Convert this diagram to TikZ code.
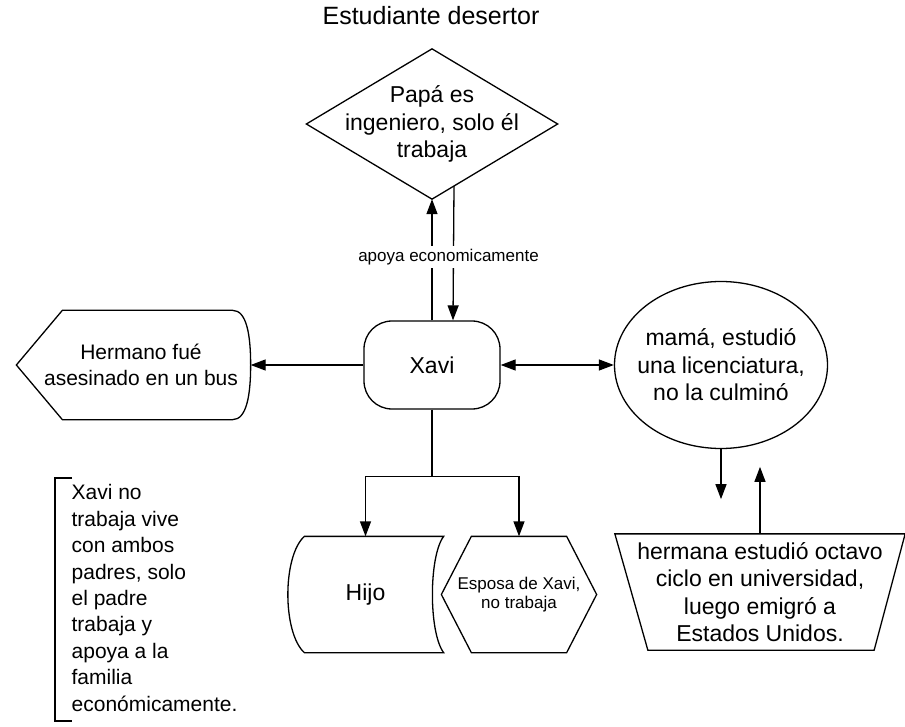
\documentclass[tikz,border=0pt]{standalone}
\usepackage{fontspec}
\setmainfont{Liberation Sans}
\usetikzlibrary{arrows.meta, calc}

\begin{document}
\begin{tikzpicture}[
  x=1pt, y=-1pt,
  font=\fontsize{23}{27.5}\selectfont,
  line width=1.3pt,
  box/.style={align=center, inner sep=0pt},
  msg/.style={-{Triangle[length=15pt, width=11pt]}},
  twoway/.style={{Triangle[length=15pt, width=11pt]}-{Triangle[length=15pt, width=11pt]}},
  small/.style={font=\fontsize{17}{19.5}\selectfont}
]
\useasboundingbox (0,0) rectangle (905,727);

%% Title
\node[font=\fontsize{25}{30}\selectfont] (titulo) at (431,16) {Estudiante desertor};

%% Papa (diamond)
\node[box, minimum width=250pt, minimum height=149pt] (papa) at (432,124)
    {Papá es\\ingeniero, solo él\\trabaja};
\draw (papa.north) -- (papa.east) -- (papa.south) -- (papa.west) -- cycle;

%% Xavi
\node[box, draw, rounded corners=28pt, minimum width=136pt, minimum height=88pt]
    (xavi) at (432,365) {Xavi};

%% Hermano (display shape)
\node[box, font=\fontsize{21}{26}\selectfont, minimum width=218pt, minimum height=108pt]
    (hermano) at (141,365) {Hermano fué\\asesinado en un bus};
\draw ($(hermano.west)+(-15,0)$) -- ($(hermano.north west)+(31,0)$)
    -- ($(hermano.north east)+(-18,0)$)
    .. controls ($(hermano.north east)+(-4,0)$) and ($(hermano.east)+(0,-30)$) .. (hermano.east)
    .. controls ($(hermano.east)+(0,30)$) and ($(hermano.south east)+(-4,0)$) .. ($(hermano.south east)+(-18,0)$)
    -- ($(hermano.south west)+(31,0)$) -- cycle;

%% Mama (ellipse)
\node[box, minimum width=213pt, minimum height=167pt] (mama) at (721,365)
    {mamá, estudió\\una licenciatura,\\no la culminó};
\draw (mama.center) ellipse [x radius=106.5, y radius=83.5];

%% Hermana (trapezium)
\node[box, minimum width=289pt, minimum height=115pt] (hermana) at (760,592)
    {hermana estudió octavo\\ciclo en universidad,\\luego emigró a\\Estados Unidos.};
\draw (hermana.north west) -- (hermana.north east)
    -- ($(hermana.south east)+(-31,0)$) -- ($(hermana.south west)+(33,0)$) -- cycle;

%% Hijo (stored data)
\node[box, minimum width=155pt, minimum height=115pt] (hijo) at (365.5,594.5) {Hijo};
\draw ($(hijo.north west)+(17,0)$) -- (hijo.north east)
    .. controls ($(hijo.north east)+(-15,20)$) and ($(hijo.south east)+(-15,-20)$) .. (hijo.south east)
    -- ($(hijo.south west)+(17,0)$)
    .. controls ($(hijo.south west)+(-5,-20)$) and ($(hijo.north west)+(-5,20)$) .. cycle;

%% Esposa (hexagon)
\node[box, small, minimum width=154pt, minimum height=115pt] (esposa) at (519,594.5)
    {Esposa de Xavi,\\no trabaja};
\draw (esposa.west) -- ($(esposa.north west)+(30,0)$) -- ($(esposa.north east)+(-30,0)$)
    -- (esposa.east) -- ($(esposa.south east)+(-30,0)$) -- ($(esposa.south west)+(30,0)$) -- cycle;

%% Note with bracket
\node[align=left, anchor=north west, inner sep=0pt, font=\fontsize{21}{26.4}\selectfont]
    (nota) at (71,484)
    {Xavi no\\trabaja vive\\con ambos\\padres, solo\\el padre\\trabaja y\\apoya a la\\familia\\económicamente.};
\draw ($(nota.north west)+(1,-6)$) -- ++(-17,0) |- ($(nota.south west)+(1,9)$);

%% Connectors
\draw[msg] (xavi.north) -- (papa.south);
\draw[msg] ($(papa.south)+(22,-13)$) -- ($(xavi.north)+(21,0)$)
    node[midway, small, fill=white, inner sep=3pt, xshift=-5pt, yshift=-4pt] (apoya)
    {apoya economicamente};
\draw[msg] (xavi.west) -- (hermano.east);
\draw[twoway] (xavi.east) -- (mama.west);
\draw[msg] (mama.south) -- ++(0,50);
\draw[msg] (hermana.north) -- ++(0,-67);
\draw (xavi.south) -- ++(0,67) coordinate (rama);
\draw[msg] (rama) -| (hijo.north);
\draw[msg] (rama) -| (esposa.north);

\end{tikzpicture}
\end{document}
